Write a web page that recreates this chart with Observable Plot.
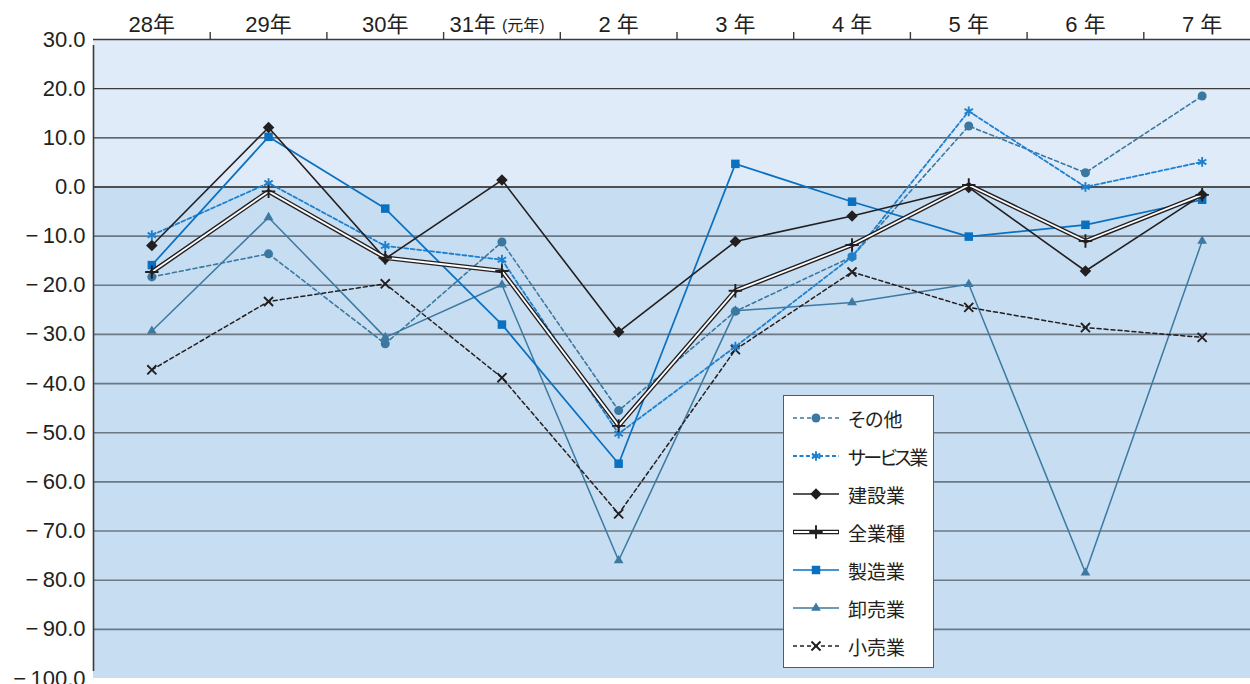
<!DOCTYPE html>
<html>
<head>
<meta charset="utf-8">
<script src="https://cdn.jsdelivr.net/npm/d3@7"></script>
<script src="https://cdn.jsdelivr.net/npm/@observablehq/plot@0.6"></script>
<style>
  html, body { margin: 0; padding: 0; overflow: hidden; background: #fff; }
  #wrap { position: relative; width: 1260px; height: 684px; }
  #legend {
    position: absolute; left: 783px; top: 395px; width: 151px; height: 273px;
    background: #fff; border: 1.5px solid #5a5a5a; box-sizing: border-box;
    font-family: "Noto Sans CJK JP", sans-serif; font-size: 19px; color: #231f20;
    font-feature-settings: "palt";
  }
  .row { position: absolute; left: 0; height: 30px; display: flex; align-items: center; white-space: nowrap; }
  .row svg { margin-left: 8px; margin-right: 8px; }
</style>
</head>
<body>
<div id="wrap"><div id="legend"></div></div>
<script>
const categories = ["28年","29年","30年","31年","2年","3年","4年","5年","6年","7年"];
const xLabels = ["28年","29年","30年","31年","2 年","3 年","4 年","5 年","6 年","7 年"];
const yTicks = [30,20,10,0,-10,-20,-30,-40,-50,-60,-70,-80,-90,-100];

const sonota    = [-18.3, -13.6, -31.9, -11.2, -45.5, -25.3, -14.2, 12.4, 2.9, 18.5];
const service   = [-9.8, 0.8, -12.0, -14.8, -50.2, -32.5, -14.2, 15.4, 0.0, 5.1];
const kensetsu  = [-11.9, 12.1, -14.6, 1.4, -29.5, -11.1, -5.9, -0.1, -17.1, -1.6];
const zengyoshu = [-17.3, -0.9, -14.4, -17.1, -48.6, -21.1, -11.8, 0.4, -11.0, -1.6];
const seizo     = [-15.9, 10.2, -4.4, -28.0, -56.3, 4.7, -3.0, -10.1, -7.7, -2.6];
const oroshi    = [-29.3, -6.2, -30.6, -19.9, -76.0, -25.2, -23.5, -19.8, -78.5, -11.0];
const kouri     = [-37.2, -23.3, -19.7, -38.8, -66.5, -33.1, -17.3, -24.5, -28.6, -30.6];

const seriesNames = ["その他","サービス業","建設業","全業種","製造業","卸売業","小売業"];

const W = 1260, H = 684, ML = 93, MR = 0, MT = 39, MB = 6;
const bw = (W - ML - MR) / categories.length;

const styles = {
  "その他":   {values: sonota,   stroke: "#3b78a1", width: 1.6, dash: "4,3", symbol: "circle", r: 4.5, filled: true},
  "サービス業": {values: service,  stroke: "#1e81d0", width: 1.8, dash: "4,2.5", symbol: "asterisk", r: 4.6, filled: false, spacing: "-2.5px"},
  "建設業":   {values: kensetsu, stroke: "#231f20", width: 1.6, dash: null, symbol: "square", rotate: 45, r: 4.6, filled: true},
  "全業種":   {values: zengyoshu, stroke: "#231f20", width: 1.6, dash: null, symbol: "plus", r: 4.4, filled: false, double: true},
  "製造業":   {values: seizo,    stroke: "#0a70c0", width: 1.7, dash: null, symbol: "square", r: 4.8, filled: true},
  "卸売業":   {values: oroshi,   stroke: "#3d79a0", width: 1.5, dash: null, symbol: "triangle", r: 3.6, filled: true},
  "小売業":   {values: kouri,    stroke: "#231f20", width: 1.5, dash: "4,3", symbol: "times", r: 4.2, filled: false}
};

const drawOrder = ["卸売業","小売業","その他","サービス業","製造業","建設業","全業種"];

const marks = [];
// background bands
marks.push(Plot.rect([{y1: 0, y2: 30}], {y1: "y1", y2: "y2", fill: "#dfebf8"}));
marks.push(Plot.rect([{y1: -100, y2: 0}], {y1: "y1", y2: "y2", fill: "#c6ddf2"}));
// gridlines
marks.push(Plot.ruleY(yTicks.filter(v => v > 0 && v < 30), {stroke: "#3a3a3a", strokeWidth: 1.3}));
marks.push(Plot.ruleY(yTicks.filter(v => v <= 0 && v > -100), {stroke: "#6c7884", strokeWidth: 1.6}));
marks.push(Plot.ruleY([0], {stroke: "#3a3a3a", strokeWidth: 1.4}));
marks.push(Plot.ruleY([30], {stroke: "#3a3a3a", strokeWidth: 1.6}));
// left axis line and top ticks
marks.push(Plot.ruleX([categories[0]], {x: d => d, dx: -bw / 2, y1: -100, y2: 30, insetTop: -7, insetBottom: -6, stroke: "#3a3a3a", strokeWidth: 1.6}));
marks.push(Plot.ruleX(categories.slice(1), {x: d => d, dx: -bw / 2, y1: 30, y2: 30, insetTop: -7, stroke: "#3a3a3a", strokeWidth: 1.4}));

// series
for (const name of drawOrder) {
  const s = styles[name];
  const data = categories.map((c, i) => ({cat: c, v: s.values[i]}));
  if (s.double) {
    marks.push(Plot.line(data, {x: "cat", y: "v", stroke: "#231f20", strokeWidth: 4.6}));
    marks.push(Plot.line(data, {x: "cat", y: "v", stroke: "#ffffff", strokeWidth: 1.8}));
  } else {
    marks.push(Plot.line(data, {x: "cat", y: "v", stroke: s.stroke, strokeWidth: s.width, strokeDasharray: s.dash || undefined}));
  }
  const opts = {x: "cat", y: "v", symbol: s.symbol, r: s.r, rotate: s.rotate || 0};
  if (s.filled) {
    marks.push(Plot.dot(data, {...opts, fill: s.stroke, stroke: "none"}));
  } else {
    marks.push(Plot.dot(data, {...opts, stroke: s.stroke, strokeWidth: 1.9, fill: "none"}));
  }
}

// y axis labels
marks.push(Plot.axisY({
  ticks: yTicks, tickSize: 0, tickPadding: 8, fontSize: 22,
  tickFormat: d => d < 0 ? "\u2212\u2009" + (-d).toFixed(1) : d.toFixed(1),
  fill: "#231f20", label: null
}));

// x labels (top)
const xLabelData = categories.map((c, i) => ({cat: c, label: xLabels[i]}));
marks.push(Plot.text(xLabelData.filter(d => d.cat !== "31年"), {x: "cat", text: "label", frameAnchor: "top", lineAnchor: "middle", dy: -15, fontSize: 22, fill: "#231f20"}));
marks.push(Plot.text(xLabelData.filter(d => d.cat === "31年"), {x: "cat", text: "label", frameAnchor: "top", lineAnchor: "middle", dy: -15, dx: -6, textAnchor: "end", fontSize: 22, fill: "#231f20"}));
marks.push(Plot.text(xLabelData.filter(d => d.cat === "31年"), {x: "cat", text: () => "(元年)", frameAnchor: "top", lineAnchor: "middle", dy: -14, dx: 0, textAnchor: "start", fontSize: 16, fill: "#231f20"}));

const chart = Plot.plot({
  width: W, height: H,
  marginLeft: ML, marginRight: MR, marginTop: MT, marginBottom: MB,
  x: {type: "band", domain: categories, padding: 0, round: false, axis: null},
  y: {domain: [-100, 30], axis: null},
  style: {fontFamily: "'Liberation Sans', 'Noto Sans CJK JP', sans-serif", background: "transparent", overflow: "visible"},
  marks
});
document.getElementById("wrap").prepend(chart);

// legend
const legend = document.getElementById("legend");
const symMap = {circle: d3.symbolCircle, asterisk: d3.symbolAsterisk, plus: d3.symbolPlus,
                square: d3.symbolSquare, triangle: d3.symbolTriangle, times: d3.symbolTimes};
seriesNames.forEach((name, i) => {
  const s = styles[name];
  const row = document.createElement("div");
  row.className = "row";
  row.style.top = (7 + i * 38) + "px";
  const svg = d3.create("svg").attr("width", 48).attr("height", 20);
  if (s.double) {
    svg.append("line").attr("x1", 1).attr("x2", 47).attr("y1", 10).attr("y2", 10).attr("stroke", "#231f20").attr("stroke-width", 4.6);
    svg.append("line").attr("x1", 2).attr("x2", 46).attr("y1", 10).attr("y2", 10).attr("stroke", "#fff").attr("stroke-width", 1.8);
  } else {
    svg.append("line").attr("x1", 1).attr("x2", 47).attr("y1", 10).attr("y2", 10)
      .attr("stroke", s.stroke).attr("stroke-width", s.width).attr("stroke-dasharray", s.dash || null);
  }
  const path = d3.symbol(symMap[s.symbol], Math.PI * s.r * s.r)();
  const p = svg.append("path").attr("d", path).attr("transform", `translate(24,10) rotate(${s.rotate || 0})`);
  if (s.filled) p.attr("fill", s.stroke);
  else p.attr("fill", "none").attr("stroke", s.stroke).attr("stroke-width", 1.9);
  row.appendChild(svg.node());
  const t = document.createElement("span");
  t.textContent = name;
  if (s.spacing) t.style.letterSpacing = s.spacing;
  row.appendChild(t);
  legend.appendChild(row);
});
</script>
</body>
</html>
